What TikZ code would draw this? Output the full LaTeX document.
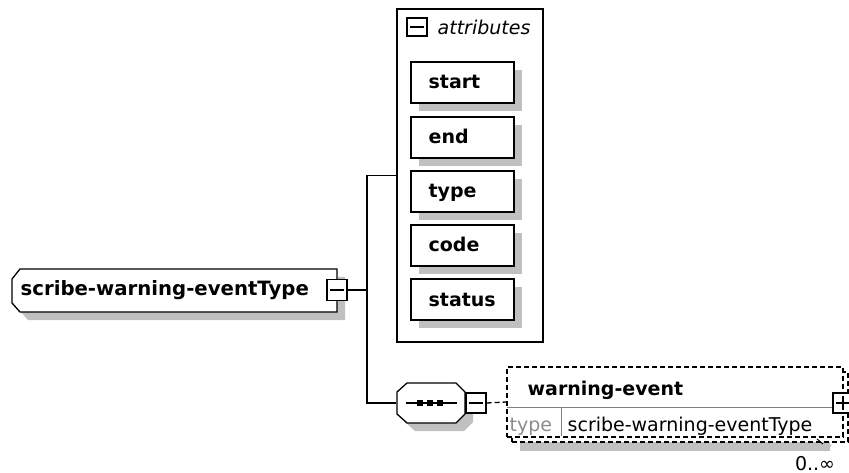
\documentclass[tikz,border=0pt]{standalone}
\usepackage{fontspec}
\setmainfont{DejaVu Sans}
\usetikzlibrary{shadows}
\definecolor{shadowgray}{HTML}{C0C0C0}
\definecolor{divgray}{HTML}{808080}
\definecolor{typegray}{HTML}{8C8C8C}
\begin{document}
\begin{tikzpicture}[x=1pt,y=-1pt, line width=1.3pt,
  shad/.style={drop shadow={shadow xshift=8pt,shadow yshift=-8pt,opacity=1,fill=shadowgray}},
  lbl/.style={font=\fontsize{19}{22}\selectfont\bfseries, inner sep=0pt, anchor=base west},
  plain/.style={font=\fontsize{19}{22}\selectfont, inner sep=0pt, anchor=base west},
  attrbox/.style={draw, fill=white, shad, minimum width=103pt, minimum height=41pt, inner sep=0pt},
  togglebox/.style={draw, fill=white, minimum width=20pt, minimum height=20pt, inner sep=0pt},
  dashedbox/.style={draw, dash pattern=on 5pt off 3pt, fill=white, inner sep=0pt, minimum width=336pt, minimum height=70pt},
  dashedline/.style={dash pattern=on 5pt off 3pt},
]
\useasboundingbox (0,0) rectangle (849,473);

% main complex type
\draw[fill=white, shad] (20,269) -- (337,269) -- (337,312) -- (20,312) -- (12,303) -- (12,279) -- cycle;
\node[lbl, font=\fontsize{19.7}{22}\selectfont\bfseries] (main) at (20,295) {scribe-warning-eventType};
\node[togglebox, minimum height=21pt] (mainminus) at (337,290) {};
\draw ([xshift=4pt]mainminus.west) -- ([xshift=-4pt]mainminus.east);
\coordinate (bus) at (367,290);

% attributes container
\node[draw, fill=white, minimum width=146pt, minimum height=333pt, inner sep=0pt] (attrs) at (470,175.5) {};
\node[togglebox, minimum height=18pt] (attrminus) at (417,27) {};
\draw ([xshift=4pt]attrminus.west) -- ([xshift=-4pt]attrminus.east);
\node[font=\fontsize{19}{22}\selectfont\itshape, inner sep=0pt, anchor=base west] (attrtitle) at (437,35) {attributes};

\node[attrbox] (a1) at (462.5,82.5) {};
\node[lbl] (t1) at (428,89) {start};
\node[attrbox] (a2) at (462.5,137.5) {};
\node[lbl] (t2) at (428,144) {end};
\node[attrbox] (a3) at (462.5,191.5) {};
\node[lbl] (t3) at (428,198) {type};
\node[attrbox] (a4) at (462.5,245.5) {};
\node[lbl] (t4) at (428,252) {code};
\node[attrbox] (a5) at (462.5,299.5) {};
\node[lbl] (t5) at (428,306) {status};

% sequence compositor
\draw[fill=white, shad] (407,383) -- (456,383) -- (465,392) -- (465,414) -- (456,423) -- (407,423) -- (397,414) -- (397,392) -- cycle;
\node[minimum width=68pt, minimum height=40pt, inner sep=0pt] (seq) at (431,403) {};
\draw (406,403) -- (457,403);
\foreach \xx in {420,430,440} \fill (\xx-3,400) rectangle (\xx+3,406);
\node[togglebox] (seqminus) at (476,403) {};
\draw ([xshift=4pt]seqminus.west) -- ([xshift=-4pt]seqminus.east);

% connectors
\draw (mainminus.east) -- (bus);
\draw (attrs.west) -| (bus) |- (seq.west);

% warning-event element
\fill[shadowgray] (520,380) rectangle (830,451);
\node[dashedbox] (weback) at (680,407) {};
\node[dashedbox] (we) at (675,402) {};
\draw[divgray, line width=1pt] (507,407.5) -- (833,407.5);
\draw[divgray, line width=1pt] (561,408) -- (561,436);
\node[lbl] (wename) at (527,395) {warning-event};
\node[plain, text=typegray] (wetypekey) at (509,431) {type};
\node[plain] (wetype) at (567,431) {scribe-warning-eventType};
\node[togglebox] (weplus) at (843,403) {};
\draw ([xshift=4pt]weplus.west) -- ([xshift=-4pt]weplus.east);
\draw ([yshift=-4pt]weplus.north) -- ([yshift=4pt]weplus.south);
\draw[dashedline] (seqminus.east) -- (we.west);
\draw[line width=1pt] (817,439) -- (823,444);
\draw[shadowgray, line width=1.5pt] (825,451) -- (831,445);
\node[font=\fontsize{19}{22}\selectfont, inner sep=0pt, anchor=base] (mult) at (815,470) {0..∞};
\end{tikzpicture}
\end{document}
